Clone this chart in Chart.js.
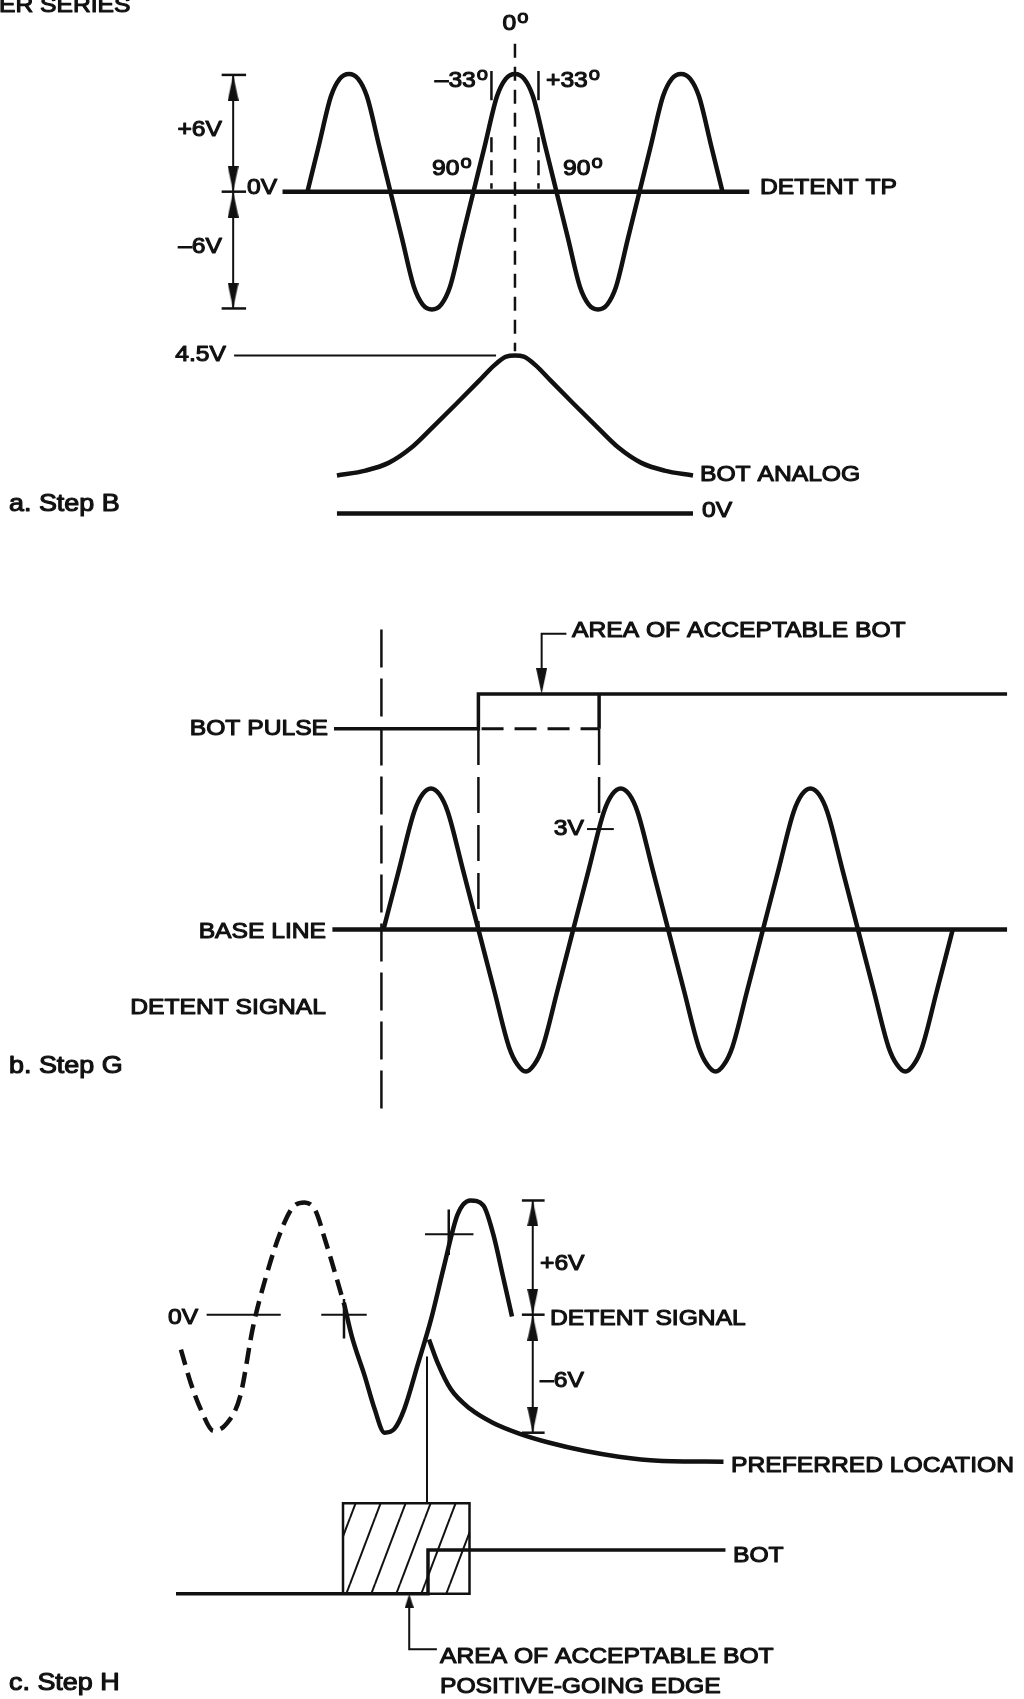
<!DOCTYPE html>
<html>
<head>
<meta charset="utf-8">
<script src="https://cdn.jsdelivr.net/npm/chart.js@4.4.1/dist/chart.umd.min.js"></script>
<style>
  html, body { margin: 0; padding: 0; background: #fff; overflow: hidden; }
  #wrap { position: relative; width: 1024px; height: 1699px; }
</style>
</head>
<body>
<div id="wrap"><canvas id="chart1"></canvas></div>
<script>
// ---------- a. Step B : detent TP (degrees, volts) ----------
var tpDeg = [-450,-425,-399,-380,-360,-340,-321,-295,-270,-245,-219,-200,-180,-160,-141,-115,-90,-65,-39,-20,0,20,39,65,90,115,141,160,180,200,219,245,270,295,321,340,360,380,399,425,450];
var tpVolts = [0,2.4,4.9,5.8,6.05,5.8,4.9,2.4,0,-2.4,-4.9,-5.8,-6.05,-5.8,-4.9,-2.4,0,2.4,4.9,5.8,6.05,5.8,4.9,2.4,0,-2.4,-4.9,-5.8,-6.05,-5.8,-4.9,-2.4,0,2.4,4.9,5.8,6.05,5.8,4.9,2.4,0];
var tpBaseDeg = [-504, 508];
var tpMarkDeg = [-51, 51];          // the -33 / +33 marks
var tpBracketDeg = -611;
var tpBarDeg = [-636, -583];
var tpLevels = [6, 0, -6];
var tpArrowVolts = [5.34, 0.66, -0.66, -5.34];
// BOT analog (degrees, volts)
var botAnalogDeg = [-386,-324,-274,-225,-176,-126,-77,-45,-19,0,19,45,77,126,176,225,274,324,386];
var botAnalogVolts = [1.08,1.22,1.44,1.87,2.49,3.14,3.79,4.22,4.47,4.5,4.47,4.22,3.79,3.14,2.49,1.87,1.44,1.22,1.08];
var botZeroDeg = [-386, 386];
var botPeakLeaderDeg = [-609, -41];

// ---------- b. Step G ----------
var detentDeg = [0,30,58,74,90,106,122,150,180,210,238,254,270,286,302,330,360,390,418,434,450,466,482,510,540,570,598,614,630,646,662,690,720,750,778,794,810,826,842,870,900,930,958,974,990,1006,1022,1050,1080];
var detentVolts = [0,2.6,5,5.75,6,5.75,5,2.6,0,-2.6,-5,-5.75,-6.05,-5.75,-5,-2.6,0,2.6,5,5.75,6,5.75,5,2.6,0,-2.6,-5,-5.75,-6.05,-5.75,-5,-2.6,0,2.6,5,5.75,6,5.75,5,2.6,0,-2.6,-5,-5.75,-6.05,-5.75,-5,-2.6,0];
var baseLineDeg = [-97, 1183];
var pulseDeg = [-94, 180, 180, 1183];
var pulseLevel = [0, 0, 1, 1];
var windowDeg = [180, 409];         // acceptable BOT window
var longDashDeg = -4;
var longDashVolts = [12.76, -7.65];
var windowDashVolts = [8.53, 0, 4.94];
var tick3VDeg = [386, 437];
var tick3VVolts = 4.27;
var leaderBDeg = [347, 300, 300];
var leaderBLevel = [2.74, 2.74, 1.2];

// ---------- c. Step H ----------
var prevDeg = [-250,-230,-210,-184,-158,-130,-104,-78,-50,-24,0,22,42,66,80];
var prevVolts = [-1.83,-3.6,-4.96,-6.1,-5.74,-4.28,-0.63,1.98,4.23,5.63,5.9,5.48,3.91,1.83,0.57];
var sigDeg = [80,96,122,142,162,182,202,230,256,282,310,336,362,382,402,420];
var sigVolts = [0.6,-1.15,-3.23,-4.96,-6.2,-6.0,-4.96,-2.56,-0.26,2.5,5.27,6.0,5.74,4.23,1.98,-0.1];
var zeroCDeg = [-198, -48];
var cross1 = { deg: [34, 126], volts: 0, tickDeg: 80, tickVolts: [0.83, -1.25] };
var cross2 = { deg: [244, 342], volts: 4.23, tickDeg: 292, tickVolts: [5.53, 3.13] };
var cBracketDeg = 462;
var cBarDeg = [440, 486];
var cLevels = [6, 0, -6.2];
var cArrowVolts = [5.32, 0.68, -0.68, -5.52];
var prefDeg = [252,270,296,336,382,436,496,566,636,716,848];
var prefVolts = [-1.3,-2.56,-3.91,-4.96,-5.69,-6.26,-6.73,-7.15,-7.46,-7.67,-7.72];
var dropDeg = 248;
var dropVolts = [-2.2, -9.91];
var boxDeg = [78, 334];
var boxLevel = 2.07;
var botStepDeg = [-260, 250, 250, 852];
var botStepLevel = [0, 0, 1, 1];
var edgeArrowDeg = [212, 212, 268];
var edgeArrowLevel = [-0.2, -1.27, -1.27];

// ---------- texts ----------
var labels = [
  { t: 'ER SERIES', x: -1, y: 6, a: 'left' },
  { t: '0', s: 'o', x: 515, y: 24, a: 'center' },
  { t: '\u201333', s: 'o', x: 487, y: 81, a: 'right' },
  { t: '+33', s: 'o', x: 546, y: 81, a: 'left' },
  { t: '90', s: 'o', x: 432, y: 169, a: 'left' },
  { t: '90', s: 'o', x: 563, y: 169, a: 'left' },
  { t: '+6V', x: 222, y: 130, a: 'right' },
  { t: '0V', x: 247, y: 188, a: 'left' },
  { t: '\u20136V', x: 222, y: 247, a: 'right' },
  { t: 'DETENT TP', x: 760, y: 188, a: 'left' },
  { t: '4.5V', x: 226, y: 355, a: 'right' },
  { t: 'BOT ANALOG', x: 700, y: 475, a: 'left' },
  { t: '0V', x: 702, y: 511, a: 'left' },
  { t: 'a. Step B', x: 9, y: 504, a: 'left', size: 24 },
  { t: 'AREA OF ACCEPTABLE BOT', x: 572, y: 631, a: 'left' },
  { t: 'BOT PULSE', x: 328, y: 729, a: 'right' },
  { t: '3V', x: 584, y: 829, a: 'right' },
  { t: 'BASE LINE', x: 326, y: 932, a: 'right' },
  { t: 'DETENT SIGNAL', x: 326, y: 1008, a: 'right' },
  { t: 'b. Step G', x: 9, y: 1066, a: 'left', size: 24 },
  { t: '0V', x: 168, y: 1318, a: 'left' },
  { t: '+6V', x: 540, y: 1264, a: 'left' },
  { t: 'DETENT SIGNAL', x: 550, y: 1319, a: 'left' },
  { t: '\u20136V', x: 540, y: 1381, a: 'left' },
  { t: 'PREFERRED LOCATION', x: 731, y: 1466, a: 'left' },
  { t: 'BOT', x: 733, y: 1556, a: 'left' },
  { t: 'AREA OF ACCEPTABLE BOT', x: 440, y: 1657, a: 'left' },
  { t: 'POSITIVE-GOING EDGE', x: 440, y: 1687, a: 'left' },
  { t: 'c. Step H', x: 9, y: 1683, a: 'left', size: 24 }
];

var INK = '#111';
var W = 1024, H = 1699;

// value 0 sits at pixel p0, pxPerUnit pixels for one unit
function xRange(p0, pxPerUnit) { return { min: -p0 / pxPerUnit, max: (W - p0) / pxPerUnit }; }
function yRange(p0, pxPerUnit) { return { min: -(H - p0) / pxPerUnit, max: p0 / pxPerUnit }; }

function pts(xs, ys) {
  return xs.map(function (x, i) { return { x: x, y: Array.isArray(ys) ? ys[i] : ys }; });
}

function line(data, xId, yId, opts) {
  return Object.assign({
    data: data, xAxisID: xId, yAxisID: yId,
    showLine: true, pointRadius: 0, borderColor: INK, borderWidth: 4.5,
    fill: false, tension: 0
  }, opts || {});
}

function arrow(data, rot, xId, yId, img) {
  return {
    data: data, xAxisID: xId, yAxisID: yId, showLine: false,
    pointStyle: img, pointRadius: 6, pointRotation: rot,
    pointBackgroundColor: INK, pointBorderWidth: 0
  };
}

// arrowheads (narrow triangles pointing up)
function arrowImg(w, h) {
  var c = document.createElement('canvas');
  c.width = w; c.height = h;
  var g = c.getContext('2d');
  g.fillStyle = INK;
  g.beginPath(); g.moveTo(w / 2, 0); g.lineTo(w, h); g.lineTo(0, h); g.closePath(); g.fill();
  return c;
}
var bigArrow = arrowImg(11, 26);
var smallArrow = arrowImg(9, 14);

// hatch for the acceptable area box
function hatch() {
  var c = document.createElement('canvas');
  c.width = 25; c.height = 66;
  var g = c.getContext('2d');
  g.strokeStyle = INK; g.lineWidth = 2;
  [-25, 0, 25].forEach(function (o) {
    g.beginPath(); g.moveTo(o, 66); g.lineTo(o + 25, 0); g.stroke();
  });
  return g.createPattern(c, 'repeat');
}

var curve = { cubicInterpolationMode: 'monotone' };
var datasets = [
  // a. Step B
  line(pts(tpBaseDeg, [0, 0]), 'xa', 'ya'),
  line(pts(tpDeg, tpVolts), 'xa', 'ya', curve),
  line(pts([tpBracketDeg, tpBracketDeg], [6, -6]), 'xa', 'ya', { borderWidth: 2 }),
  line(pts(tpBarDeg, tpLevels[0]), 'xa', 'ya', { borderWidth: 2.5 }),
  line(pts(tpBarDeg, tpLevels[1]), 'xa', 'ya', { borderWidth: 2.5 }),
  line(pts(tpBarDeg, tpLevels[2]), 'xa', 'ya', { borderWidth: 2.5 }),
  arrow(pts([tpBracketDeg, tpBracketDeg, tpBracketDeg, tpBracketDeg], tpArrowVolts), [0, 180, 0, 180], 'xa', 'ya', bigArrow),
  line(pts([0, 0], [7.6, -8.2]), 'xa', 'ya', { borderWidth: 2.5, borderDash: [14, 9] }),
  line(pts([tpMarkDeg[0], tpMarkDeg[0]], [6.2, 4.7]), 'xa', 'ya', { borderWidth: 2.5 }),
  line(pts([tpMarkDeg[1], tpMarkDeg[1]], [6.2, 4.7]), 'xa', 'ya', { borderWidth: 2.5 }),
  line(pts([tpMarkDeg[0], tpMarkDeg[0]], [2.8, 0.15]), 'xa', 'ya', { borderWidth: 2.5, borderDash: [15, 8] }),
  line(pts([tpMarkDeg[1], tpMarkDeg[1]], [2.8, 0.15]), 'xa', 'ya', { borderWidth: 2.5, borderDash: [15, 8] }),
  line(pts(botAnalogDeg, botAnalogVolts), 'xa', 'yab', curve),
  line(pts(botZeroDeg, [0, 0]), 'xa', 'yab'),
  line(pts(botPeakLeaderDeg, [4.5, 4.5]), 'xa', 'yab', { borderWidth: 2 }),

  // b. Step G
  line(pts(baseLineDeg, [0, 0]), 'xb', 'yb'),
  line(pts(detentDeg, detentVolts), 'xb', 'yb', curve),
  line(pts(pulseDeg, pulseLevel), 'xb', 'ybp', { borderWidth: 3.5 }),
  line(pts([windowDeg[1], windowDeg[1]], [0, 1]), 'xb', 'ybp', { borderWidth: 3.5 }),
  line(pts([windowDeg[0] + 6, windowDeg[1]], [0, 0]), 'xb', 'ybp', { borderWidth: 3, borderDash: [22, 11] }),
  line(pts([windowDeg[0], windowDeg[0]], [windowDashVolts[0], windowDashVolts[1]]), 'xb', 'yb', { borderWidth: 2.5, borderDash: [36, 12] }),
  line(pts([windowDeg[1], windowDeg[1]], [windowDashVolts[0], windowDashVolts[2]]), 'xb', 'yb', { borderWidth: 2.5, borderDash: [36, 12] }),
  line(pts([longDashDeg, longDashDeg], longDashVolts), 'xb', 'yb', { borderWidth: 2.5, borderDash: [38, 11] }),
  line(pts(tick3VDeg, tick3VVolts), 'xb', 'yb', { borderWidth: 2 }),
  line(pts(leaderBDeg, leaderBLevel), 'xb', 'ybp', { borderWidth: 2 }),
  arrow(pts([leaderBDeg[2]], [1.37]), [180], 'xb', 'ybp', bigArrow),

  // c. Step H
  line(pts(prevDeg, prevVolts), 'xc', 'yc', Object.assign({ borderDash: [16, 8] }, curve)),
  line(pts(sigDeg, sigVolts), 'xc', 'yc', curve),
  line(pts(zeroCDeg, 0), 'xc', 'yc', { borderWidth: 2 }),
  line(pts(cross1.deg, cross1.volts), 'xc', 'yc', { borderWidth: 2 }),
  line(pts([cross1.tickDeg, cross1.tickDeg], cross1.tickVolts), 'xc', 'yc', { borderWidth: 2.5 }),
  line(pts(cross2.deg, cross2.volts), 'xc', 'yc', { borderWidth: 2 }),
  line(pts([cross2.tickDeg, cross2.tickDeg], cross2.tickVolts), 'xc', 'yc', { borderWidth: 2.5 }),
  line(pts([cBracketDeg, cBracketDeg], [cLevels[0], cLevels[2]]), 'xc', 'yc', { borderWidth: 2 }),
  line(pts(cBarDeg, cLevels[0]), 'xc', 'yc', { borderWidth: 2.5 }),
  line(pts(cBarDeg, cLevels[1]), 'xc', 'yc', { borderWidth: 2.5 }),
  line(pts(cBarDeg, cLevels[2]), 'xc', 'yc', { borderWidth: 2.5 }),
  arrow(pts([cBracketDeg, cBracketDeg, cBracketDeg, cBracketDeg], cArrowVolts), [0, 180, 0, 180], 'xc', 'yc', bigArrow),
  line(pts(prefDeg, prefVolts), 'xc', 'yc', curve),
  line(pts([dropDeg, dropDeg], dropVolts), 'xc', 'yc', { borderWidth: 2 }),
  line(pts(boxDeg, boxLevel), 'xc', 'ycp', { borderWidth: 0, fill: { value: 0 }, backgroundColor: hatch() }),
  line(pts([boxDeg[0], boxDeg[0], boxDeg[1], boxDeg[1], boxDeg[0]], [0, boxLevel, boxLevel, 0, 0]), 'xc', 'ycp', { borderWidth: 2.5 }),
  line(pts(botStepDeg, botStepLevel), 'xc', 'ycp', { borderWidth: 3.5 }),
  line(pts(edgeArrowDeg, edgeArrowLevel), 'xc', 'ycp', { borderWidth: 2 }),
  arrow(pts([edgeArrowDeg[0]], [-0.16]), [0], 'xc', 'ycp', smallArrow)
];

function ax(axis, range) {
  return Object.assign({ type: 'linear', axis: axis, display: false }, range);
}

// texts of the diagram
var SX = 1.12;
var labelPlugin = {
  id: 'diagramLabels',
  afterDraw: function (chart) {
    var ctx = chart.ctx;
    ctx.save();
    ctx.fillStyle = INK;
    ctx.strokeStyle = INK;
    ctx.lineWidth = 1.1;
    ctx.lineJoin = 'round';
    ctx.textBaseline = 'middle';
    ctx.textAlign = 'left';
    labels.forEach(function (L) {
      var size = L.size || 22;
      var font = size + 'px "Liberation Sans", Arial, sans-serif';
      var supFont = Math.round(size * 0.8) + 'px "Liberation Sans", Arial, sans-serif';
      ctx.font = font;
      var w = ctx.measureText(L.t).width * SX;
      var sw = 0;
      if (L.s) { ctx.font = supFont; sw = ctx.measureText(L.s).width * SX; }
      var total = w + sw;
      var x0 = L.a === 'right' ? L.x - total : (L.a === 'center' ? L.x - total / 2 : L.x);
      ctx.save();
      ctx.translate(x0, L.y);
      ctx.scale(SX, 1);
      ctx.font = font;
      ctx.fillText(L.t, 0, 0);
      ctx.strokeText(L.t, 0, 0);
      ctx.restore();
      if (L.s) {
        ctx.save();
        ctx.translate(x0 + w + 1, L.y - size * 0.27);
        ctx.scale(SX, 1);
        ctx.font = supFont;
        ctx.fillText(L.s, 0, 0);
        ctx.strokeText(L.s, 0, 0);
        ctx.restore();
      }
    });
    ctx.restore();
  }
};

var contexto = document.getElementById('chart1').getContext('2d');
var miGrafico = new Chart(contexto, {
  type: 'scatter',
  data: { datasets: datasets },
  options: {
    responsive: true,
    maintainAspectRatio: false,
    animation: false,
    events: [],
    layout: { padding: 0 },
    plugins: { legend: { display: false }, tooltip: { enabled: false } },
    scales: {
      x: { display: false },
      y: { display: false },
      xa: ax('x', xRange(515, 168 / 360)),
      ya: ax('y', yRange(187, 19.6)),
      yab: ax('y', yRange(511, 35.33)),
      xb: ax('x', xRange(382, 192 / 360)),
      yb: ax('y', yRange(930, 23.67)),
      ybp: ax('y', yRange(728, 35)),
      xc: ax('x', xRange(302, 0.5)),
      yc: ax('y', yRange(1318, 19.17)),
      ycp: ax('y', yRange(1599, 44))
    }
  },
  plugins: [labelPlugin]
});
</script>
</body>
</html>
